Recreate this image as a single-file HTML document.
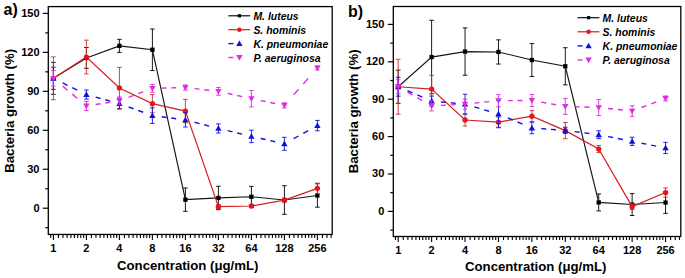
<!DOCTYPE html>
<html><head><meta charset="utf-8"><style>
html,body{margin:0;padding:0;background:#fff;width:685px;height:278px;overflow:hidden}
svg{display:block;font-family:"Liberation Sans",sans-serif}
</style></head><body>
<svg width="685" height="278" viewBox="0 0 685 278"><path d="M53.40,62.36V94.30M51.10,62.36H55.70M51.10,94.30H55.70" stroke="#000000" stroke-width="0.9" fill="none"/>
<path d="M86.40,47.55V68.33M84.10,47.55H88.70M84.10,68.33H88.70" stroke="#000000" stroke-width="0.9" fill="none"/>
<path d="M119.40,39.37V52.36M117.10,39.37H121.70M117.10,52.36H121.70" stroke="#000000" stroke-width="0.9" fill="none"/>
<path d="M152.40,28.98V70.54M150.10,28.98H154.70M150.10,70.54H154.70" stroke="#000000" stroke-width="0.9" fill="none"/>
<path d="M185.40,187.94V211.32M183.10,187.94H187.70M183.10,211.32H187.70" stroke="#000000" stroke-width="0.9" fill="none"/>
<path d="M218.40,186.25V209.63M216.10,186.25H220.70M216.10,209.63H220.70" stroke="#000000" stroke-width="0.9" fill="none"/>
<path d="M251.40,186.38V207.16M249.10,186.38H253.70M249.10,207.16H253.70" stroke="#000000" stroke-width="0.9" fill="none"/>
<path d="M284.40,185.73V214.30M282.10,185.73H286.70M282.10,214.30H286.70" stroke="#000000" stroke-width="0.9" fill="none"/>
<path d="M317.40,183.78V207.16M315.10,183.78H319.70M315.10,207.16H319.70" stroke="#000000" stroke-width="0.9" fill="none"/>
<polyline points="53.40,78.33 86.40,57.94 119.40,45.86 152.40,49.76 185.40,199.63 218.40,197.94 251.40,196.77 284.40,200.02 317.40,195.47" stroke="#151515" stroke-width="1.15" fill="none"/>
<rect x="51.25" y="76.18" width="4.30" height="4.30" fill="#000000"/>
<rect x="84.25" y="55.79" width="4.30" height="4.30" fill="#000000"/>
<rect x="117.25" y="43.71" width="4.30" height="4.30" fill="#000000"/>
<rect x="150.25" y="47.61" width="4.30" height="4.30" fill="#000000"/>
<rect x="183.25" y="197.48" width="4.30" height="4.30" fill="#000000"/>
<rect x="216.25" y="195.79" width="4.30" height="4.30" fill="#000000"/>
<rect x="249.25" y="194.62" width="4.30" height="4.30" fill="#000000"/>
<rect x="282.25" y="197.87" width="4.30" height="4.30" fill="#000000"/>
<rect x="315.25" y="193.32" width="4.30" height="4.30" fill="#000000"/>
<path d="M53.40,56.90V99.76M51.10,56.90H55.70M51.10,99.76H55.70" stroke="#c83030" stroke-width="0.9" fill="none"/>
<path d="M86.40,40.15V73.91M84.10,40.15H88.70M84.10,73.91H88.70" stroke="#c83030" stroke-width="0.9" fill="none"/>
<path d="M119.40,67.42V108.46M117.10,67.42H121.70M117.10,108.46H121.70" stroke="#c83030" stroke-width="0.9" fill="none"/>
<path d="M152.40,94.56V112.75M150.10,94.56H154.70M150.10,112.75H154.70" stroke="#c83030" stroke-width="0.9" fill="none"/>
<path d="M185.40,99.37V122.75M183.10,99.37H187.70M183.10,122.75H187.70" stroke="#c83030" stroke-width="0.9" fill="none"/>
<path d="M218.40,204.69V208.59M216.10,204.69H220.70M216.10,208.59H220.70" stroke="#c83030" stroke-width="0.9" fill="none"/>
<path d="M251.40,204.43V207.55M249.10,204.43H253.70M249.10,207.55H253.70" stroke="#c83030" stroke-width="0.9" fill="none"/>
<path d="M284.40,198.20V202.10M282.10,198.20H286.70M282.10,202.10H286.70" stroke="#c83030" stroke-width="0.9" fill="none"/>
<path d="M317.40,183.14V193.52M315.10,183.14H319.70M315.10,193.52H319.70" stroke="#c83030" stroke-width="0.9" fill="none"/>
<polyline points="53.40,78.33 86.40,57.03 119.40,87.94 152.40,103.65 185.40,111.06 218.40,206.64 251.40,205.99 284.40,200.15 317.40,188.33" stroke="#d42020" stroke-width="1.2" fill="none"/>
<circle cx="53.40" cy="78.33" r="2.65" fill="#e8141c"/>
<circle cx="86.40" cy="57.03" r="2.65" fill="#e8141c"/>
<circle cx="119.40" cy="87.94" r="2.65" fill="#e8141c"/>
<circle cx="152.40" cy="103.65" r="2.65" fill="#e8141c"/>
<circle cx="185.40" cy="111.06" r="2.65" fill="#e8141c"/>
<circle cx="218.40" cy="206.64" r="2.65" fill="#e8141c"/>
<circle cx="251.40" cy="205.99" r="2.65" fill="#e8141c"/>
<circle cx="284.40" cy="200.15" r="2.65" fill="#e8141c"/>
<circle cx="317.40" cy="188.33" r="2.65" fill="#e8141c"/>
<path d="M53.40,67.29V89.37M51.10,67.29H55.70M51.10,89.37H55.70" stroke="#1010e0" stroke-width="0.9" fill="none"/>
<path d="M86.40,90.02V99.11M84.10,90.02H88.70M84.10,99.11H88.70" stroke="#1010e0" stroke-width="0.9" fill="none"/>
<path d="M119.40,98.20V109.11M117.10,98.20H121.70M117.10,109.11H121.70" stroke="#1010e0" stroke-width="0.9" fill="none"/>
<path d="M152.40,107.81V123.39M150.10,107.81H154.70M150.10,123.39H154.70" stroke="#1010e0" stroke-width="0.9" fill="none"/>
<path d="M185.40,112.75V127.03M183.10,112.75H187.70M183.10,127.03H187.70" stroke="#1010e0" stroke-width="0.9" fill="none"/>
<path d="M218.40,123.91V133.01M216.10,123.91H220.70M216.10,133.01H220.70" stroke="#1010e0" stroke-width="0.9" fill="none"/>
<path d="M251.40,130.15V142.62M249.10,130.15H253.70M249.10,142.62H253.70" stroke="#1010e0" stroke-width="0.9" fill="none"/>
<path d="M284.40,137.29V150.28M282.10,137.29H286.70M282.10,150.28H286.70" stroke="#1010e0" stroke-width="0.9" fill="none"/>
<path d="M317.40,120.41V130.80M315.10,120.41H319.70M315.10,130.80H319.70" stroke="#1010e0" stroke-width="0.9" fill="none"/>
<path d="M62.64,82.88L67.52,85.28M72.28,87.62L77.16,90.02M95.64,97.11L100.52,98.45M105.28,99.76L110.16,101.11M128.64,107.00L133.52,108.77M138.28,110.49L143.16,112.26M161.64,116.80L166.52,117.44M171.28,118.05L176.16,118.69M194.64,122.29L199.52,123.56M204.28,124.79L209.16,126.06M227.64,130.68L232.52,131.85M237.28,132.99L242.16,134.16M260.64,138.45L265.52,139.55M270.28,140.62L275.16,141.71M293.64,138.69L298.52,136.00M303.28,133.38L308.16,130.69" stroke="#1010e0" stroke-width="1.4" fill="none"/>
<path d="M53.40,75.13 L56.60,80.73 L50.20,80.73Z" fill="#1010e0"/>
<path d="M86.40,91.36 L89.60,96.96 L83.20,96.96Z" fill="#1010e0"/>
<path d="M119.40,100.45 L122.60,106.05 L116.20,106.05Z" fill="#1010e0"/>
<path d="M152.40,112.40 L155.60,118.00 L149.20,118.00Z" fill="#1010e0"/>
<path d="M185.40,116.69 L188.60,122.29 L182.20,122.29Z" fill="#1010e0"/>
<path d="M218.40,125.26 L221.60,130.86 L215.20,130.86Z" fill="#1010e0"/>
<path d="M251.40,133.18 L254.60,138.78 L248.20,138.78Z" fill="#1010e0"/>
<path d="M284.40,140.58 L287.60,146.18 L281.20,146.18Z" fill="#1010e0"/>
<path d="M317.40,122.40 L320.60,128.00 L314.20,128.00Z" fill="#1010e0"/>
<path d="M53.40,70.54V86.12M51.10,70.54H55.70M51.10,86.12H55.70" stroke="#dd2ddd" stroke-width="0.9" fill="none"/>
<path d="M86.40,101.45V110.54M84.10,101.45H88.70M84.10,110.54H88.70" stroke="#dd2ddd" stroke-width="0.9" fill="none"/>
<path d="M119.40,96.90V104.69M117.10,96.90H121.70M117.10,104.69H121.70" stroke="#dd2ddd" stroke-width="0.9" fill="none"/>
<path d="M152.40,84.43V92.23M150.10,84.43H154.70M150.10,92.23H154.70" stroke="#dd2ddd" stroke-width="0.9" fill="none"/>
<path d="M185.40,84.95V90.15M183.10,84.95H187.70M183.10,90.15H187.70" stroke="#dd2ddd" stroke-width="0.9" fill="none"/>
<path d="M218.40,87.42V95.21M216.10,87.42H220.70M216.10,95.21H220.70" stroke="#dd2ddd" stroke-width="0.9" fill="none"/>
<path d="M251.40,90.54V106.90M249.10,90.54H253.70M249.10,106.90H253.70" stroke="#dd2ddd" stroke-width="0.9" fill="none"/>
<path d="M284.40,102.75V107.94M282.10,102.75H286.70M282.10,107.94H286.70" stroke="#dd2ddd" stroke-width="0.9" fill="none"/>
<path d="M317.40,65.99V69.89M315.10,65.99H319.70M315.10,69.89H319.70" stroke="#dd2ddd" stroke-width="0.9" fill="none"/>
<path d="M62.64,86.08L67.52,90.17M72.28,94.15L77.16,98.25M95.64,104.54L100.52,103.77M105.28,103.02L110.16,102.25M128.64,97.31L133.52,95.46M138.28,93.67L143.16,91.82M161.64,88.11L166.52,88.00M171.28,87.88L176.16,87.77M194.64,88.61L199.52,89.16M204.28,89.71L209.16,90.26M227.64,93.39L232.52,94.49M237.28,95.55L242.16,96.65M260.64,100.57L265.52,101.55M270.28,102.51L275.16,103.49M293.64,94.87L298.52,89.33M303.28,83.95L308.16,78.41" stroke="#dd2ddd" stroke-width="1.4" fill="none"/>
<path d="M53.40,81.53 L56.60,75.93 L50.20,75.93Z" fill="#dd2ddd"/>
<path d="M86.40,109.19 L89.60,103.59 L83.20,103.59Z" fill="#dd2ddd"/>
<path d="M119.40,104.00 L122.60,98.40 L116.20,98.40Z" fill="#dd2ddd"/>
<path d="M152.40,91.53 L155.60,85.93 L149.20,85.93Z" fill="#dd2ddd"/>
<path d="M185.40,90.75 L188.60,85.15 L182.20,85.15Z" fill="#dd2ddd"/>
<path d="M218.40,94.52 L221.60,88.92 L215.20,88.92Z" fill="#dd2ddd"/>
<path d="M251.40,101.92 L254.60,96.32 L248.20,96.32Z" fill="#dd2ddd"/>
<path d="M284.40,108.54 L287.60,102.94 L281.20,102.94Z" fill="#dd2ddd"/>
<path d="M317.40,71.14 L320.60,65.54 L314.20,65.54Z" fill="#dd2ddd"/>
<rect x="48.30" y="6.60" width="283.90" height="227.85" fill="none" stroke="#000" stroke-width="1.3"/>
<path d="M45.30,227.68H48.30" stroke="#000" stroke-width="1.2"/>
<path d="M42.80,208.20H48.30" stroke="#000" stroke-width="1.2"/>
<text x="39.50" y="211.60" text-anchor="end" font-size="11" font-weight="bold" font-family='"Liberation Sans", sans-serif'>0</text>
<path d="M45.30,188.72H48.30" stroke="#000" stroke-width="1.2"/>
<path d="M42.80,169.24H48.30" stroke="#000" stroke-width="1.2"/>
<text x="39.50" y="172.64" text-anchor="end" font-size="11" font-weight="bold" font-family='"Liberation Sans", sans-serif'>30</text>
<path d="M45.30,149.76H48.30" stroke="#000" stroke-width="1.2"/>
<path d="M42.80,130.28H48.30" stroke="#000" stroke-width="1.2"/>
<text x="39.50" y="133.68" text-anchor="end" font-size="11" font-weight="bold" font-family='"Liberation Sans", sans-serif'>60</text>
<path d="M45.30,110.80H48.30" stroke="#000" stroke-width="1.2"/>
<path d="M42.80,91.32H48.30" stroke="#000" stroke-width="1.2"/>
<text x="39.50" y="94.72" text-anchor="end" font-size="11" font-weight="bold" font-family='"Liberation Sans", sans-serif'>90</text>
<path d="M45.30,71.84H48.30" stroke="#000" stroke-width="1.2"/>
<path d="M42.80,52.36H48.30" stroke="#000" stroke-width="1.2"/>
<text x="39.50" y="55.76" text-anchor="end" font-size="11" font-weight="bold" font-family='"Liberation Sans", sans-serif'>120</text>
<path d="M45.30,32.88H48.30" stroke="#000" stroke-width="1.2"/>
<path d="M42.80,13.39H48.30" stroke="#000" stroke-width="1.2"/>
<text x="39.50" y="16.79" text-anchor="end" font-size="11" font-weight="bold" font-family='"Liberation Sans", sans-serif'>150</text>
<path d="M50.68,234.45V237.95" stroke="#000" stroke-width="1.1"/>
<path d="M53.40,234.45V239.95" stroke="#000" stroke-width="1.1"/>
<text x="53.40" y="251.80" text-anchor="middle" font-size="11" font-weight="bold" font-family='"Liberation Sans", sans-serif'>1</text>
<path d="M58.42,234.45V237.95" stroke="#000" stroke-width="1.1"/>
<path d="M62.95,234.45V237.95" stroke="#000" stroke-width="1.1"/>
<path d="M67.10,234.45V237.95" stroke="#000" stroke-width="1.1"/>
<path d="M70.91,234.45V237.95" stroke="#000" stroke-width="1.1"/>
<path d="M74.44,234.45V237.95" stroke="#000" stroke-width="1.1"/>
<path d="M77.72,234.45V237.95" stroke="#000" stroke-width="1.1"/>
<path d="M80.79,234.45V237.95" stroke="#000" stroke-width="1.1"/>
<path d="M83.68,234.45V237.95" stroke="#000" stroke-width="1.1"/>
<path d="M86.40,234.45V239.95" stroke="#000" stroke-width="1.1"/>
<text x="86.40" y="251.80" text-anchor="middle" font-size="11" font-weight="bold" font-family='"Liberation Sans", sans-serif'>2</text>
<path d="M91.42,234.45V237.95" stroke="#000" stroke-width="1.1"/>
<path d="M95.95,234.45V237.95" stroke="#000" stroke-width="1.1"/>
<path d="M100.10,234.45V237.95" stroke="#000" stroke-width="1.1"/>
<path d="M103.91,234.45V237.95" stroke="#000" stroke-width="1.1"/>
<path d="M107.44,234.45V237.95" stroke="#000" stroke-width="1.1"/>
<path d="M110.72,234.45V237.95" stroke="#000" stroke-width="1.1"/>
<path d="M113.79,234.45V237.95" stroke="#000" stroke-width="1.1"/>
<path d="M116.68,234.45V237.95" stroke="#000" stroke-width="1.1"/>
<path d="M119.40,234.45V239.95" stroke="#000" stroke-width="1.1"/>
<text x="119.40" y="251.80" text-anchor="middle" font-size="11" font-weight="bold" font-family='"Liberation Sans", sans-serif'>4</text>
<path d="M124.42,234.45V237.95" stroke="#000" stroke-width="1.1"/>
<path d="M128.95,234.45V237.95" stroke="#000" stroke-width="1.1"/>
<path d="M133.10,234.45V237.95" stroke="#000" stroke-width="1.1"/>
<path d="M136.91,234.45V237.95" stroke="#000" stroke-width="1.1"/>
<path d="M140.44,234.45V237.95" stroke="#000" stroke-width="1.1"/>
<path d="M143.72,234.45V237.95" stroke="#000" stroke-width="1.1"/>
<path d="M146.79,234.45V237.95" stroke="#000" stroke-width="1.1"/>
<path d="M149.68,234.45V237.95" stroke="#000" stroke-width="1.1"/>
<path d="M152.40,234.45V239.95" stroke="#000" stroke-width="1.1"/>
<text x="152.40" y="251.80" text-anchor="middle" font-size="11" font-weight="bold" font-family='"Liberation Sans", sans-serif'>8</text>
<path d="M157.42,234.45V237.95" stroke="#000" stroke-width="1.1"/>
<path d="M161.95,234.45V237.95" stroke="#000" stroke-width="1.1"/>
<path d="M166.10,234.45V237.95" stroke="#000" stroke-width="1.1"/>
<path d="M169.91,234.45V237.95" stroke="#000" stroke-width="1.1"/>
<path d="M173.44,234.45V237.95" stroke="#000" stroke-width="1.1"/>
<path d="M176.72,234.45V237.95" stroke="#000" stroke-width="1.1"/>
<path d="M179.79,234.45V237.95" stroke="#000" stroke-width="1.1"/>
<path d="M182.68,234.45V237.95" stroke="#000" stroke-width="1.1"/>
<path d="M185.40,234.45V239.95" stroke="#000" stroke-width="1.1"/>
<text x="185.40" y="251.80" text-anchor="middle" font-size="11" font-weight="bold" font-family='"Liberation Sans", sans-serif'>16</text>
<path d="M190.42,234.45V237.95" stroke="#000" stroke-width="1.1"/>
<path d="M194.95,234.45V237.95" stroke="#000" stroke-width="1.1"/>
<path d="M199.10,234.45V237.95" stroke="#000" stroke-width="1.1"/>
<path d="M202.91,234.45V237.95" stroke="#000" stroke-width="1.1"/>
<path d="M206.44,234.45V237.95" stroke="#000" stroke-width="1.1"/>
<path d="M209.72,234.45V237.95" stroke="#000" stroke-width="1.1"/>
<path d="M212.79,234.45V237.95" stroke="#000" stroke-width="1.1"/>
<path d="M215.68,234.45V237.95" stroke="#000" stroke-width="1.1"/>
<path d="M218.40,234.45V239.95" stroke="#000" stroke-width="1.1"/>
<text x="218.40" y="251.80" text-anchor="middle" font-size="11" font-weight="bold" font-family='"Liberation Sans", sans-serif'>32</text>
<path d="M223.42,234.45V237.95" stroke="#000" stroke-width="1.1"/>
<path d="M227.95,234.45V237.95" stroke="#000" stroke-width="1.1"/>
<path d="M232.10,234.45V237.95" stroke="#000" stroke-width="1.1"/>
<path d="M235.91,234.45V237.95" stroke="#000" stroke-width="1.1"/>
<path d="M239.44,234.45V237.95" stroke="#000" stroke-width="1.1"/>
<path d="M242.72,234.45V237.95" stroke="#000" stroke-width="1.1"/>
<path d="M245.79,234.45V237.95" stroke="#000" stroke-width="1.1"/>
<path d="M248.68,234.45V237.95" stroke="#000" stroke-width="1.1"/>
<path d="M251.40,234.45V239.95" stroke="#000" stroke-width="1.1"/>
<text x="251.40" y="251.80" text-anchor="middle" font-size="11" font-weight="bold" font-family='"Liberation Sans", sans-serif'>64</text>
<path d="M256.42,234.45V237.95" stroke="#000" stroke-width="1.1"/>
<path d="M260.95,234.45V237.95" stroke="#000" stroke-width="1.1"/>
<path d="M265.10,234.45V237.95" stroke="#000" stroke-width="1.1"/>
<path d="M268.91,234.45V237.95" stroke="#000" stroke-width="1.1"/>
<path d="M272.44,234.45V237.95" stroke="#000" stroke-width="1.1"/>
<path d="M275.72,234.45V237.95" stroke="#000" stroke-width="1.1"/>
<path d="M278.79,234.45V237.95" stroke="#000" stroke-width="1.1"/>
<path d="M281.68,234.45V237.95" stroke="#000" stroke-width="1.1"/>
<path d="M284.40,234.45V239.95" stroke="#000" stroke-width="1.1"/>
<text x="284.40" y="251.80" text-anchor="middle" font-size="11" font-weight="bold" font-family='"Liberation Sans", sans-serif'>128</text>
<path d="M289.42,234.45V237.95" stroke="#000" stroke-width="1.1"/>
<path d="M293.95,234.45V237.95" stroke="#000" stroke-width="1.1"/>
<path d="M298.10,234.45V237.95" stroke="#000" stroke-width="1.1"/>
<path d="M301.91,234.45V237.95" stroke="#000" stroke-width="1.1"/>
<path d="M305.44,234.45V237.95" stroke="#000" stroke-width="1.1"/>
<path d="M308.72,234.45V237.95" stroke="#000" stroke-width="1.1"/>
<path d="M311.79,234.45V237.95" stroke="#000" stroke-width="1.1"/>
<path d="M314.68,234.45V237.95" stroke="#000" stroke-width="1.1"/>
<path d="M317.40,234.45V239.95" stroke="#000" stroke-width="1.1"/>
<text x="317.40" y="251.80" text-anchor="middle" font-size="11" font-weight="bold" font-family='"Liberation Sans", sans-serif'>256</text>
<path d="M322.42,234.45V237.95" stroke="#000" stroke-width="1.1"/>
<path d="M326.95,234.45V237.95" stroke="#000" stroke-width="1.1"/>
<path d="M331.10,234.45V237.95" stroke="#000" stroke-width="1.1"/>
<text x="117.00" y="270.40" font-size="13.2" font-weight="bold" font-family='"Liberation Sans", sans-serif'>Concentration (μg/mL)</text>
<text transform="translate(14.40,172.80) rotate(-90)" x="0" y="0" font-size="13.2" font-weight="bold" font-family='"Liberation Sans", sans-serif'>Bacteria growth (%)</text>
<text x="3.50" y="15.20" font-size="16" font-weight="bold" font-family='"Liberation Sans", sans-serif'>a)</text>
<path d="M228.40,15.80H250.20" stroke="#000000" stroke-width="1.15"/>
<rect x="237.79" y="14.19" width="3.22" height="3.22" fill="#000000"/>
<text x="253.40" y="20.00" font-size="10.45" font-weight="bold" font-style="italic" font-family='"Liberation Sans", sans-serif'>M. luteus</text>
<path d="M228.40,29.70H250.20" stroke="#e8141c" stroke-width="1.2"/>
<circle cx="239.40" cy="29.70" r="2.25" fill="#e8141c"/>
<text x="253.40" y="33.90" font-size="10.45" font-weight="bold" font-style="italic" font-family='"Liberation Sans", sans-serif'>S. hominis</text>
<path d="M228.40,43.60H233.40" stroke="#1010e0" stroke-width="1.4"/>
<path d="M239.40,40.40 L242.60,46.00 L236.20,46.00Z" fill="#1010e0"/>
<text x="253.40" y="47.80" font-size="10.45" font-weight="bold" font-style="italic" font-family='"Liberation Sans", sans-serif'>K. pneumoniae</text>
<path d="M228.40,57.50H233.40" stroke="#dd2ddd" stroke-width="1.4"/>
<path d="M239.40,60.70 L242.60,55.10 L236.20,55.10Z" fill="#dd2ddd"/>
<text x="253.40" y="61.70" font-size="10.45" font-weight="bold" font-style="italic" font-family='"Liberation Sans", sans-serif'>P. aeruginosa</text><path d="M398.20,70.15V103.31M395.90,70.15H400.50M395.90,103.31H400.50" stroke="#000000" stroke-width="0.9" fill="none"/>
<path d="M431.62,20.28V93.84M429.32,20.28H433.92M429.32,93.84H433.92" stroke="#000000" stroke-width="0.9" fill="none"/>
<path d="M465.04,27.89V75.26M462.74,27.89H467.34M462.74,75.26H467.34" stroke="#000000" stroke-width="0.9" fill="none"/>
<path d="M498.46,39.85V64.04M496.16,39.85H500.76M496.16,64.04H500.76" stroke="#000000" stroke-width="0.9" fill="none"/>
<path d="M531.88,43.59V76.51M529.58,43.59H534.18M529.58,76.51H534.18" stroke="#000000" stroke-width="0.9" fill="none"/>
<path d="M565.30,47.71V84.86M563.00,47.71H567.60M563.00,84.86H567.60" stroke="#000000" stroke-width="0.9" fill="none"/>
<path d="M598.72,193.95V210.90M596.42,193.95H601.02M596.42,210.90H601.02" stroke="#000000" stroke-width="0.9" fill="none"/>
<path d="M632.14,193.57V215.51M629.84,193.57H634.44M629.84,215.51H634.44" stroke="#000000" stroke-width="0.9" fill="none"/>
<path d="M665.56,191.70V213.39M663.26,191.70H667.86M663.26,213.39H667.86" stroke="#000000" stroke-width="0.9" fill="none"/>
<polyline points="398.20,86.73 431.62,57.06 465.04,51.57 498.46,51.95 531.88,60.05 565.30,66.28 598.72,202.42 632.14,204.54 665.56,202.55" stroke="#151515" stroke-width="1.15" fill="none"/>
<rect x="396.05" y="84.58" width="4.30" height="4.30" fill="#000000"/>
<rect x="429.47" y="54.91" width="4.30" height="4.30" fill="#000000"/>
<rect x="462.89" y="49.42" width="4.30" height="4.30" fill="#000000"/>
<rect x="496.31" y="49.80" width="4.30" height="4.30" fill="#000000"/>
<rect x="529.73" y="57.90" width="4.30" height="4.30" fill="#000000"/>
<rect x="563.15" y="64.13" width="4.30" height="4.30" fill="#000000"/>
<rect x="596.57" y="200.27" width="4.30" height="4.30" fill="#000000"/>
<rect x="629.99" y="202.39" width="4.30" height="4.30" fill="#000000"/>
<rect x="663.41" y="200.40" width="4.30" height="4.30" fill="#000000"/>
<path d="M398.20,59.30V114.16M395.90,59.30H400.50M395.90,114.16H400.50" stroke="#c83030" stroke-width="0.9" fill="none"/>
<path d="M431.62,75.39V102.81M429.32,75.39H433.92M429.32,102.81H433.92" stroke="#c83030" stroke-width="0.9" fill="none"/>
<path d="M465.04,114.03V126.00M462.74,114.03H467.34M462.74,126.00H467.34" stroke="#c83030" stroke-width="0.9" fill="none"/>
<path d="M498.46,117.15V127.12M496.16,117.15H500.76M496.16,127.12H500.76" stroke="#c83030" stroke-width="0.9" fill="none"/>
<path d="M531.88,110.67V121.64M529.58,110.67H534.18M529.58,121.64H534.18" stroke="#c83030" stroke-width="0.9" fill="none"/>
<path d="M565.30,122.51V138.72M563.00,122.51H567.60M563.00,138.72H567.60" stroke="#c83030" stroke-width="0.9" fill="none"/>
<path d="M598.72,145.57V152.56M596.42,145.57H601.02M596.42,152.56H601.02" stroke="#c83030" stroke-width="0.9" fill="none"/>
<path d="M632.14,203.92V209.41M629.84,203.92H634.44M629.84,209.41H634.44" stroke="#c83030" stroke-width="0.9" fill="none"/>
<path d="M665.56,187.96V197.19M663.26,187.96H667.86M663.26,197.19H667.86" stroke="#c83030" stroke-width="0.9" fill="none"/>
<polyline points="398.20,86.73 431.62,89.10 465.04,120.02 498.46,122.14 531.88,116.15 565.30,130.61 598.72,149.06 632.14,206.66 665.56,192.57" stroke="#d42020" stroke-width="1.2" fill="none"/>
<circle cx="398.20" cy="86.73" r="2.65" fill="#e8141c"/>
<circle cx="431.62" cy="89.10" r="2.65" fill="#e8141c"/>
<circle cx="465.04" cy="120.02" r="2.65" fill="#e8141c"/>
<circle cx="498.46" cy="122.14" r="2.65" fill="#e8141c"/>
<circle cx="531.88" cy="116.15" r="2.65" fill="#e8141c"/>
<circle cx="565.30" cy="130.61" r="2.65" fill="#e8141c"/>
<circle cx="598.72" cy="149.06" r="2.65" fill="#e8141c"/>
<circle cx="632.14" cy="206.66" r="2.65" fill="#e8141c"/>
<circle cx="665.56" cy="192.57" r="2.65" fill="#e8141c"/>
<path d="M398.20,77.26V96.20M395.90,77.26H400.50M395.90,96.20H400.50" stroke="#1010e0" stroke-width="0.9" fill="none"/>
<path d="M431.62,96.08V106.05M429.32,96.08H433.92M429.32,106.05H433.92" stroke="#1010e0" stroke-width="0.9" fill="none"/>
<path d="M465.04,94.21V114.16M462.74,94.21H467.34M462.74,114.16H467.34" stroke="#1010e0" stroke-width="0.9" fill="none"/>
<path d="M498.46,100.32V127.75M496.16,100.32H500.76M496.16,127.75H500.76" stroke="#1010e0" stroke-width="0.9" fill="none"/>
<path d="M531.88,122.26V133.73M529.58,122.26H534.18M529.58,133.73H534.18" stroke="#1010e0" stroke-width="0.9" fill="none"/>
<path d="M565.30,127.25V133.48M563.00,127.25H567.60M563.00,133.48H567.60" stroke="#1010e0" stroke-width="0.9" fill="none"/>
<path d="M598.72,130.74V138.72M596.42,130.74H601.02M596.42,138.72H601.02" stroke="#1010e0" stroke-width="0.9" fill="none"/>
<path d="M632.14,137.22V145.45M629.84,137.22H634.44M629.84,145.45H634.44" stroke="#1010e0" stroke-width="0.9" fill="none"/>
<path d="M665.56,142.33V153.55M663.26,142.33H667.86M663.26,153.55H667.86" stroke="#1010e0" stroke-width="0.9" fill="none"/>
<path d="M407.56,90.74L412.50,92.87M417.32,94.93L422.26,97.05M440.98,101.94L445.92,102.40M450.74,102.85L455.68,103.31M474.40,106.94L479.34,108.40M484.16,109.82L489.10,111.28M507.82,117.94L512.76,120.01M517.58,122.02L522.52,124.09M541.24,128.66L546.18,129.01M551.00,129.35L555.94,129.70M574.66,131.59L579.60,132.23M584.42,132.86L589.36,133.51M608.08,136.58L613.02,137.56M617.84,138.51L622.78,139.49M641.50,143.19L646.44,144.16M651.26,145.11L656.20,146.09" stroke="#1010e0" stroke-width="1.4" fill="none"/>
<path d="M398.20,83.53 L401.40,89.13 L395.00,89.13Z" fill="#1010e0"/>
<path d="M431.62,97.87 L434.82,103.47 L428.42,103.47Z" fill="#1010e0"/>
<path d="M465.04,100.98 L468.24,106.58 L461.84,106.58Z" fill="#1010e0"/>
<path d="M498.46,110.83 L501.66,116.43 L495.26,116.43Z" fill="#1010e0"/>
<path d="M531.88,124.80 L535.08,130.40 L528.68,130.40Z" fill="#1010e0"/>
<path d="M565.30,127.16 L568.50,132.76 L562.10,132.76Z" fill="#1010e0"/>
<path d="M598.72,131.53 L601.92,137.13 L595.52,137.13Z" fill="#1010e0"/>
<path d="M632.14,138.14 L635.34,143.74 L628.94,143.74Z" fill="#1010e0"/>
<path d="M665.56,144.74 L668.76,150.34 L662.36,150.34Z" fill="#1010e0"/>
<path d="M398.20,79.75V93.71M395.90,79.75H400.50M395.90,93.71H400.50" stroke="#dd2ddd" stroke-width="0.9" fill="none"/>
<path d="M431.62,100.94V110.92M429.32,100.94H433.92M429.32,110.92H433.92" stroke="#dd2ddd" stroke-width="0.9" fill="none"/>
<path d="M465.04,99.07V109.05M462.74,99.07H467.34M462.74,109.05H467.34" stroke="#dd2ddd" stroke-width="0.9" fill="none"/>
<path d="M498.46,94.58V106.80M496.16,94.58H500.76M496.16,106.80H500.76" stroke="#dd2ddd" stroke-width="0.9" fill="none"/>
<path d="M531.88,94.46V106.43M529.58,94.46H534.18M529.58,106.43H534.18" stroke="#dd2ddd" stroke-width="0.9" fill="none"/>
<path d="M565.30,98.45V114.41M563.00,98.45H567.60M563.00,114.41H567.60" stroke="#dd2ddd" stroke-width="0.9" fill="none"/>
<path d="M598.72,99.57V115.53M596.42,99.57H601.02M596.42,115.53H601.02" stroke="#dd2ddd" stroke-width="0.9" fill="none"/>
<path d="M632.14,105.68V116.40M629.84,105.68H634.44M629.84,116.40H634.44" stroke="#dd2ddd" stroke-width="0.9" fill="none"/>
<path d="M665.56,95.96V100.94M663.26,95.96H667.86M663.26,100.94H667.86" stroke="#dd2ddd" stroke-width="0.9" fill="none"/>
<path d="M407.56,92.11L412.50,94.95M417.32,97.71L422.26,100.55M440.98,105.41L445.92,105.13M450.74,104.86L455.68,104.58M474.40,103.12L479.34,102.62M484.16,102.13L489.10,101.64M507.82,100.62L512.76,100.59M517.58,100.55L522.52,100.51M541.24,102.12L546.18,103.00M551.00,103.87L555.94,104.75M574.66,106.74L579.60,106.91M584.42,107.07L589.36,107.24M608.08,108.53L613.02,109.04M617.84,109.55L622.78,110.06M641.50,107.51L646.44,105.65M651.26,103.84L656.20,101.97" stroke="#dd2ddd" stroke-width="1.4" fill="none"/>
<path d="M398.20,89.93 L401.40,84.33 L395.00,84.33Z" fill="#dd2ddd"/>
<path d="M431.62,109.13 L434.82,103.53 L428.42,103.53Z" fill="#dd2ddd"/>
<path d="M465.04,107.26 L468.24,101.66 L461.84,101.66Z" fill="#dd2ddd"/>
<path d="M498.46,103.89 L501.66,98.29 L495.26,98.29Z" fill="#dd2ddd"/>
<path d="M531.88,103.64 L535.08,98.04 L528.68,98.04Z" fill="#dd2ddd"/>
<path d="M565.30,109.63 L568.50,104.03 L562.10,104.03Z" fill="#dd2ddd"/>
<path d="M598.72,110.75 L601.92,105.15 L595.52,105.15Z" fill="#dd2ddd"/>
<path d="M632.14,114.24 L635.34,108.64 L628.94,108.64Z" fill="#dd2ddd"/>
<path d="M665.56,101.65 L668.76,96.05 L662.36,96.05Z" fill="#dd2ddd"/>
<rect x="393.30" y="6.50" width="287.50" height="230.00" fill="none" stroke="#000" stroke-width="1.3"/>
<path d="M390.30,230.10H393.30" stroke="#000" stroke-width="1.2"/>
<path d="M387.80,211.40H393.30" stroke="#000" stroke-width="1.2"/>
<text x="384.30" y="214.80" text-anchor="end" font-size="11" font-weight="bold" font-family='"Liberation Sans", sans-serif'>0</text>
<path d="M390.30,192.70H393.30" stroke="#000" stroke-width="1.2"/>
<path d="M387.80,174.00H393.30" stroke="#000" stroke-width="1.2"/>
<text x="384.30" y="177.40" text-anchor="end" font-size="11" font-weight="bold" font-family='"Liberation Sans", sans-serif'>30</text>
<path d="M390.30,155.30H393.30" stroke="#000" stroke-width="1.2"/>
<path d="M387.80,136.60H393.30" stroke="#000" stroke-width="1.2"/>
<text x="384.30" y="140.00" text-anchor="end" font-size="11" font-weight="bold" font-family='"Liberation Sans", sans-serif'>60</text>
<path d="M390.30,117.90H393.30" stroke="#000" stroke-width="1.2"/>
<path d="M387.80,99.20H393.30" stroke="#000" stroke-width="1.2"/>
<text x="384.30" y="102.60" text-anchor="end" font-size="11" font-weight="bold" font-family='"Liberation Sans", sans-serif'>90</text>
<path d="M390.30,80.50H393.30" stroke="#000" stroke-width="1.2"/>
<path d="M387.80,61.80H393.30" stroke="#000" stroke-width="1.2"/>
<text x="384.30" y="65.20" text-anchor="end" font-size="11" font-weight="bold" font-family='"Liberation Sans", sans-serif'>120</text>
<path d="M390.30,43.10H393.30" stroke="#000" stroke-width="1.2"/>
<path d="M387.80,24.40H393.30" stroke="#000" stroke-width="1.2"/>
<text x="384.30" y="27.80" text-anchor="end" font-size="11" font-weight="bold" font-family='"Liberation Sans", sans-serif'>150</text>
<path d="M395.44,236.50V240.00" stroke="#000" stroke-width="1.1"/>
<path d="M398.20,236.50V242.00" stroke="#000" stroke-width="1.1"/>
<text x="398.20" y="253.80" text-anchor="middle" font-size="11" font-weight="bold" font-family='"Liberation Sans", sans-serif'>1</text>
<path d="M403.28,236.50V240.00" stroke="#000" stroke-width="1.1"/>
<path d="M407.88,236.50V240.00" stroke="#000" stroke-width="1.1"/>
<path d="M412.07,236.50V240.00" stroke="#000" stroke-width="1.1"/>
<path d="M415.93,236.50V240.00" stroke="#000" stroke-width="1.1"/>
<path d="M419.50,236.50V240.00" stroke="#000" stroke-width="1.1"/>
<path d="M422.83,236.50V240.00" stroke="#000" stroke-width="1.1"/>
<path d="M425.94,236.50V240.00" stroke="#000" stroke-width="1.1"/>
<path d="M428.86,236.50V240.00" stroke="#000" stroke-width="1.1"/>
<path d="M431.62,236.50V242.00" stroke="#000" stroke-width="1.1"/>
<text x="431.62" y="253.80" text-anchor="middle" font-size="11" font-weight="bold" font-family='"Liberation Sans", sans-serif'>2</text>
<path d="M436.70,236.50V240.00" stroke="#000" stroke-width="1.1"/>
<path d="M441.30,236.50V240.00" stroke="#000" stroke-width="1.1"/>
<path d="M445.49,236.50V240.00" stroke="#000" stroke-width="1.1"/>
<path d="M449.35,236.50V240.00" stroke="#000" stroke-width="1.1"/>
<path d="M452.92,236.50V240.00" stroke="#000" stroke-width="1.1"/>
<path d="M456.25,236.50V240.00" stroke="#000" stroke-width="1.1"/>
<path d="M459.36,236.50V240.00" stroke="#000" stroke-width="1.1"/>
<path d="M462.28,236.50V240.00" stroke="#000" stroke-width="1.1"/>
<path d="M465.04,236.50V242.00" stroke="#000" stroke-width="1.1"/>
<text x="465.04" y="253.80" text-anchor="middle" font-size="11" font-weight="bold" font-family='"Liberation Sans", sans-serif'>4</text>
<path d="M470.12,236.50V240.00" stroke="#000" stroke-width="1.1"/>
<path d="M474.72,236.50V240.00" stroke="#000" stroke-width="1.1"/>
<path d="M478.91,236.50V240.00" stroke="#000" stroke-width="1.1"/>
<path d="M482.77,236.50V240.00" stroke="#000" stroke-width="1.1"/>
<path d="M486.34,236.50V240.00" stroke="#000" stroke-width="1.1"/>
<path d="M489.67,236.50V240.00" stroke="#000" stroke-width="1.1"/>
<path d="M492.78,236.50V240.00" stroke="#000" stroke-width="1.1"/>
<path d="M495.70,236.50V240.00" stroke="#000" stroke-width="1.1"/>
<path d="M498.46,236.50V242.00" stroke="#000" stroke-width="1.1"/>
<text x="498.46" y="253.80" text-anchor="middle" font-size="11" font-weight="bold" font-family='"Liberation Sans", sans-serif'>8</text>
<path d="M503.54,236.50V240.00" stroke="#000" stroke-width="1.1"/>
<path d="M508.14,236.50V240.00" stroke="#000" stroke-width="1.1"/>
<path d="M512.33,236.50V240.00" stroke="#000" stroke-width="1.1"/>
<path d="M516.19,236.50V240.00" stroke="#000" stroke-width="1.1"/>
<path d="M519.76,236.50V240.00" stroke="#000" stroke-width="1.1"/>
<path d="M523.09,236.50V240.00" stroke="#000" stroke-width="1.1"/>
<path d="M526.20,236.50V240.00" stroke="#000" stroke-width="1.1"/>
<path d="M529.12,236.50V240.00" stroke="#000" stroke-width="1.1"/>
<path d="M531.88,236.50V242.00" stroke="#000" stroke-width="1.1"/>
<text x="531.88" y="253.80" text-anchor="middle" font-size="11" font-weight="bold" font-family='"Liberation Sans", sans-serif'>16</text>
<path d="M536.96,236.50V240.00" stroke="#000" stroke-width="1.1"/>
<path d="M541.56,236.50V240.00" stroke="#000" stroke-width="1.1"/>
<path d="M545.75,236.50V240.00" stroke="#000" stroke-width="1.1"/>
<path d="M549.61,236.50V240.00" stroke="#000" stroke-width="1.1"/>
<path d="M553.18,236.50V240.00" stroke="#000" stroke-width="1.1"/>
<path d="M556.51,236.50V240.00" stroke="#000" stroke-width="1.1"/>
<path d="M559.62,236.50V240.00" stroke="#000" stroke-width="1.1"/>
<path d="M562.54,236.50V240.00" stroke="#000" stroke-width="1.1"/>
<path d="M565.30,236.50V242.00" stroke="#000" stroke-width="1.1"/>
<text x="565.30" y="253.80" text-anchor="middle" font-size="11" font-weight="bold" font-family='"Liberation Sans", sans-serif'>32</text>
<path d="M570.38,236.50V240.00" stroke="#000" stroke-width="1.1"/>
<path d="M574.98,236.50V240.00" stroke="#000" stroke-width="1.1"/>
<path d="M579.17,236.50V240.00" stroke="#000" stroke-width="1.1"/>
<path d="M583.03,236.50V240.00" stroke="#000" stroke-width="1.1"/>
<path d="M586.60,236.50V240.00" stroke="#000" stroke-width="1.1"/>
<path d="M589.93,236.50V240.00" stroke="#000" stroke-width="1.1"/>
<path d="M593.04,236.50V240.00" stroke="#000" stroke-width="1.1"/>
<path d="M595.96,236.50V240.00" stroke="#000" stroke-width="1.1"/>
<path d="M598.72,236.50V242.00" stroke="#000" stroke-width="1.1"/>
<text x="598.72" y="253.80" text-anchor="middle" font-size="11" font-weight="bold" font-family='"Liberation Sans", sans-serif'>64</text>
<path d="M603.80,236.50V240.00" stroke="#000" stroke-width="1.1"/>
<path d="M608.40,236.50V240.00" stroke="#000" stroke-width="1.1"/>
<path d="M612.59,236.50V240.00" stroke="#000" stroke-width="1.1"/>
<path d="M616.45,236.50V240.00" stroke="#000" stroke-width="1.1"/>
<path d="M620.02,236.50V240.00" stroke="#000" stroke-width="1.1"/>
<path d="M623.35,236.50V240.00" stroke="#000" stroke-width="1.1"/>
<path d="M626.46,236.50V240.00" stroke="#000" stroke-width="1.1"/>
<path d="M629.38,236.50V240.00" stroke="#000" stroke-width="1.1"/>
<path d="M632.14,236.50V242.00" stroke="#000" stroke-width="1.1"/>
<text x="632.14" y="253.80" text-anchor="middle" font-size="11" font-weight="bold" font-family='"Liberation Sans", sans-serif'>128</text>
<path d="M637.22,236.50V240.00" stroke="#000" stroke-width="1.1"/>
<path d="M641.82,236.50V240.00" stroke="#000" stroke-width="1.1"/>
<path d="M646.01,236.50V240.00" stroke="#000" stroke-width="1.1"/>
<path d="M649.87,236.50V240.00" stroke="#000" stroke-width="1.1"/>
<path d="M653.44,236.50V240.00" stroke="#000" stroke-width="1.1"/>
<path d="M656.77,236.50V240.00" stroke="#000" stroke-width="1.1"/>
<path d="M659.88,236.50V240.00" stroke="#000" stroke-width="1.1"/>
<path d="M662.80,236.50V240.00" stroke="#000" stroke-width="1.1"/>
<path d="M665.56,236.50V242.00" stroke="#000" stroke-width="1.1"/>
<text x="665.56" y="253.80" text-anchor="middle" font-size="11" font-weight="bold" font-family='"Liberation Sans", sans-serif'>256</text>
<path d="M670.64,236.50V240.00" stroke="#000" stroke-width="1.1"/>
<path d="M675.24,236.50V240.00" stroke="#000" stroke-width="1.1"/>
<path d="M679.43,236.50V240.00" stroke="#000" stroke-width="1.1"/>
<text x="465.00" y="271.30" font-size="13.2" font-weight="bold" font-family='"Liberation Sans", sans-serif'>Concentration (μg/mL)</text>
<text transform="translate(358.40,173.30) rotate(-90)" x="0" y="0" font-size="13.2" font-weight="bold" font-family='"Liberation Sans", sans-serif'>Bacteria growth (%)</text>
<text x="348.00" y="17.40" font-size="16" font-weight="bold" font-family='"Liberation Sans", sans-serif'>b)</text>
<path d="M577.60,17.70H599.40" stroke="#000000" stroke-width="1.15"/>
<rect x="586.99" y="16.09" width="3.22" height="3.22" fill="#000000"/>
<text x="602.60" y="21.90" font-size="10.45" font-weight="bold" font-style="italic" font-family='"Liberation Sans", sans-serif'>M. luteus</text>
<path d="M577.60,31.80H599.40" stroke="#e8141c" stroke-width="1.2"/>
<circle cx="588.60" cy="31.80" r="2.25" fill="#e8141c"/>
<text x="602.60" y="36.00" font-size="10.45" font-weight="bold" font-style="italic" font-family='"Liberation Sans", sans-serif'>S. hominis</text>
<path d="M577.60,45.90H582.60" stroke="#1010e0" stroke-width="1.4"/>
<path d="M588.60,42.70 L591.80,48.30 L585.40,48.30Z" fill="#1010e0"/>
<text x="602.60" y="50.10" font-size="10.45" font-weight="bold" font-style="italic" font-family='"Liberation Sans", sans-serif'>K. pneumoniae</text>
<path d="M577.60,60.00H582.60" stroke="#dd2ddd" stroke-width="1.4"/>
<path d="M588.60,63.20 L591.80,57.60 L585.40,57.60Z" fill="#dd2ddd"/>
<text x="602.60" y="64.20" font-size="10.45" font-weight="bold" font-style="italic" font-family='"Liberation Sans", sans-serif'>P. aeruginosa</text></svg>
</body></html>
